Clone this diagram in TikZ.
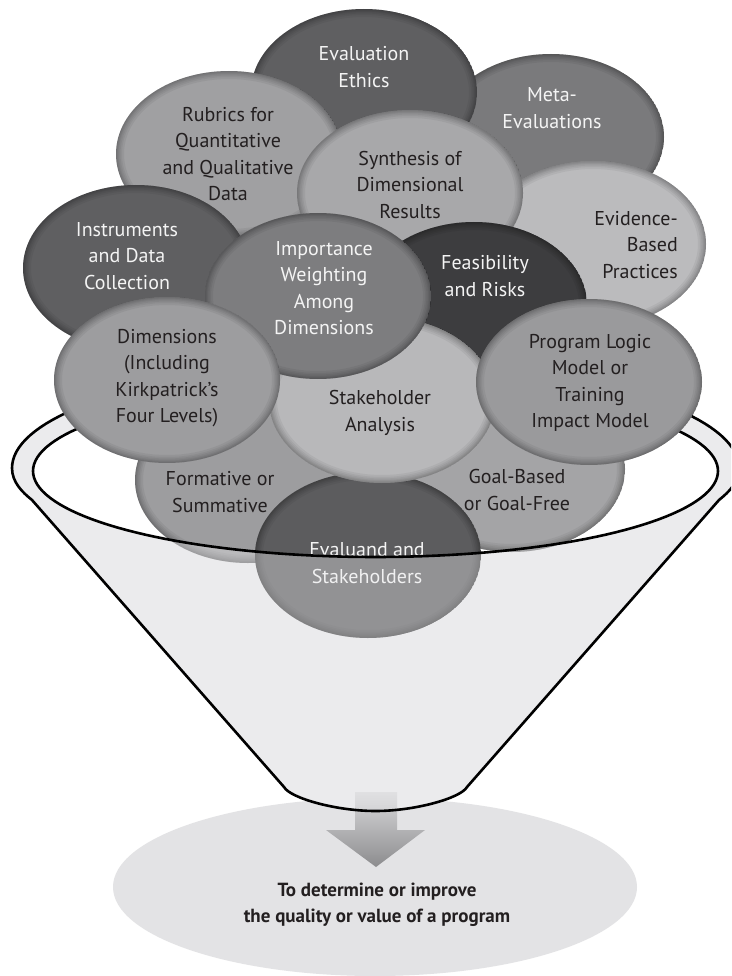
\documentclass[tikz,border=0pt]{standalone}
\usepackage{fontspec}
\setmainfont{PT Sans}

\definecolor{rimgray}{HTML}{EBEBED}
\definecolor{basegray}{HTML}{E3E3E5}
\definecolor{txtdark}{HTML}{231F20}
\definecolor{txtlight}{HTML}{F4F4F4}
\definecolor{cEthics}{HTML}{5F5F61}
\definecolor{cMeta}{HTML}{7A7A7C}
\definecolor{cRubrics}{HTML}{A0A0A2}
\definecolor{cSynth}{HTML}{A8A8AA}
\definecolor{cEvid}{HTML}{BBBBBD}
\definecolor{cInstr}{HTML}{5F5F61}
\definecolor{cImport}{HTML}{7D7D7F}
\definecolor{cFeas}{HTML}{3D3D3F}
\definecolor{cDims}{HTML}{9D9D9F}
\definecolor{cStake}{HTML}{B8B8BA}
\definecolor{cLogic}{HTML}{9A9A9C}
\definecolor{cForm}{HTML}{9D9D9F}
\definecolor{cGoal}{HTML}{A4A4A6}
\definecolor{cEvaluand}{HTML}{5C5C5E}
\definecolor{arrowtop}{HTML}{DADADC}
\definecolor{arrowbot}{HTML}{8C8C8E}

\tikzset{
  lbl/.style={align=center, inner sep=0pt, font=\fontsize{20}{26.5}\selectfont},
  darktxt/.style={lbl, text=txtlight},
  lighttxt/.style={lbl, text=txtdark},
  rimline/.style={line width=2.6pt, black, line join=round},
  goaltxt/.style={align=center, inner sep=0pt, text=txtdark, font=\fontsize{19}{26}\selectfont\bfseries}
}

% one bubble with a soft dark band just inside its edge: centre x, centre y, fill colour
\newcommand{\drawbubble}[3]{%
  \begin{scope}
    \clip (#1,#2) ellipse (113 and 83);
    \fill[#3] (#1,#2) ellipse (113 and 83);
    \foreach \w in {16,12,9,6,4,2}
      \draw[black, line width=\w pt, draw opacity=0.05] (#1,#2) ellipse (113 and 83);
  \end{scope}
}

\begin{document}
\begin{tikzpicture}[x=1pt, y=-1pt]
\useasboundingbox (0,0) rectangle (731,976);
\fill[white] (0,0) rectangle (731,976);
\clip (0,0) rectangle (731,976);

% result ellipse under the spout
\fill[basegray] (375,887) ellipse (262 and 89);

% funnel body (back) with outer rim
\fill[rimgray]
  plot[domain=180:360, samples=80] ({375.5+363.5*cos(\x)}, {468+105*sin(\x)})
  .. controls (739,482) and (729,492) .. (719,500)
  -- (467,787)
  .. controls (461,798) and (415,811) .. (375.5,811)
  .. controls (336,811) and (290,798) .. (284,787)
  -- (32,500)
  .. controls (22,492) and (12,482) .. (12,468) -- cycle;

% downward arrow coming out of the spout
\shade[top color=arrowtop, bottom color=arrowbot]
  (355,792) -- (397,792) -- (397,830) -- (425,830) -- (376,867)
  -- (326,830) -- (355,830) -- cycle;

% funnel opening
\fill[white] (375.5,471) ellipse (342.5 and 86);
\draw[rimline]
  plot[domain=180:360, samples=80] ({375.5+363.5*cos(\x)}, {468+105*sin(\x)});
\draw[rimline]
  plot[domain=180:360, samples=80] ({375.5+342.5*cos(\x)}, {471+86*sin(\x)});

% bubbles, back to front
\drawbubble{551}{137}{cMeta}
\node[darktxt] (meta) at (552,108) {Meta-\\Evaluations};

\drawbubble{364}{92}{cEthics}
\node[darktxt] (ethics) at (364,67) {Evaluation\\Ethics};

\drawbubble{229}{154}{cRubrics}
\node[lighttxt] (rubrics) at (228,154) {Rubrics for\\Quantitative\\and Qualitative\\Data};

\drawbubble{593}{244}{cEvid}
\node[lighttxt, align=right, anchor=east] (evidence) at (678,245) {Evidence-\\Based\\Practices};

\drawbubble{410}{193}{cSynth}
\node[lighttxt] (synthesis) at (410,185) {Synthesis of\\Dimensional\\Results};

\drawbubble{136}{268}{cInstr}
\node[darktxt] (instruments) at (127,256) {Instruments\\and Data\\Collection};

\drawbubble{474}{305}{cFeas}
\node[darktxt] (feasibility) at (485,276) {Feasibility\\and Risks};

\drawbubble{248}{480}{cForm}
\node[lighttxt] (formative) at (220,492) {Formative or\\Summative};

\drawbubble{512}{469}{cGoal}
\node[lighttxt] (goal) at (517,490) {Goal-Based\\or Goal-Free};

\drawbubble{368}{555}{cEvaluand}
\node[darktxt] (evaluand) at (367,563) {Evaluand and\\Stakeholders};

\drawbubble{382}{400}{cStake}
\node[lighttxt] (stakeholder) at (380,413) {Stakeholder\\Analysis};

\drawbubble{318}{296}{cImport}
\node[darktxt] (importance) at (324,288) {Importance\\Weighting\\Among\\Dimensions};

\drawbubble{167}{380}{cDims}
\node[lighttxt] (dimensions) at (167,378) {Dimensions\\(Including\\Kirkpatrick’s\\Four Levels)};

\drawbubble{589}{382}{cLogic}
\node[lighttxt] (logic) at (590,383) {Program Logic\\Model or\\Training\\Impact Model};

% translucent front wall of the funnel
\fill[rimgray, fill opacity=0.38]
  plot[domain=180:0, samples=80] ({375.5+342.5*cos(\x)}, {471+86*sin(\x)})
  -- (739,468)
  .. controls (739,482) and (729,492) .. (719,500)
  -- (467,787)
  .. controls (461,798) and (415,811) .. (375.5,811)
  .. controls (336,811) and (290,798) .. (284,787)
  -- (32,500)
  .. controls (22,492) and (12,482) .. (12,468) -- cycle;

% front lip of the opening and the outline of the cone
\draw[rimline]
  plot[domain=180:0, samples=80] ({375.5+342.5*cos(\x)}, {471+86*sin(\x)});
\draw[rimline]
  (739,468)
  .. controls (739,482) and (729,492) .. (719,500)
  -- (467,787)
  .. controls (461,798) and (415,811) .. (375.5,811)
  .. controls (336,811) and (290,798) .. (284,787)
  -- (32,500)
  .. controls (22,492) and (12,482) .. (12,468);

% purpose statement
\node[goaltxt] (purpose) at (377,905) {To determine or improve\\the quality or value of a program};
\end{tikzpicture}
\end{document}
